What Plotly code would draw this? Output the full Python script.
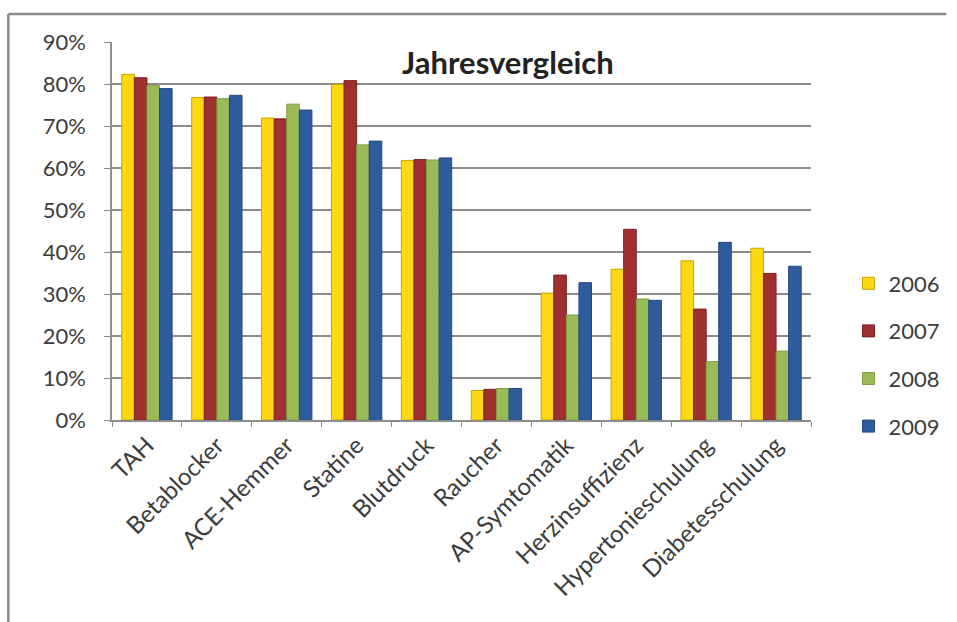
import plotly.graph_objects as go

categories = ["TAH", "Betablocker", "ACE-Hemmer", "Statine", "Blutdruck", "Raucher",
              "AP-Symtomatik", "Herzinsuffizienz", "Hypertonieschulung", "Diabetesschulung"]
years = ["2006", "2007", "2008", "2009"]

values_2006 = [82.3, 76.8, 71.9, 79.9, 61.8, 7.0, 30.2, 35.9, 37.9, 40.9]
values_2007 = [81.5, 76.9, 71.7, 80.8, 62.0, 7.3, 34.5, 45.4, 26.4, 34.9]
values_2008 = [79.6, 76.5, 75.2, 65.5, 61.9, 7.5, 25.0, 28.8, 13.9, 16.4]
values_2009 = [78.9, 77.3, 73.8, 66.4, 62.4, 7.5, 32.7, 28.5, 42.3, 36.6]

series = [values_2006, values_2007, values_2008, values_2009]
fills = ["#FFD814", "#A0302F", "#9BBB59", "#2F5C9C"]
edges = ["#C9A400", "#7A2020", "#7E9E42", "#244A80"]

FONT = "Lato, 'Open Sans', sans-serif"
TEXT = "#3c3c3c"

fig = go.Figure()
for name, vals, fc, ec in zip(years, series, fills, edges):
    fig.add_trace(go.Bar(
        x=categories, y=vals, name=name, legendgroup=name,
        marker=dict(color=fc, line=dict(color=ec, width=1)),
    ))

# plot area sits at x 112..820, y 42..420 inside a 957x622 page
L, R, T, B = 112, 137, 42, 202
W, H = 957 - L - R, 622 - T - B

def px(x):
    return (x - L) / W

def py(y):
    return (622 - B - y) / H

fig.update_layout(
    width=957, height=622,
    margin=dict(l=L, r=R, t=T, b=B),
    paper_bgcolor="white", plot_bgcolor="white",
    font=dict(family=FONT, color=TEXT, size=22),
    barmode="group", bargap=0.28, bargroupgap=0.0,
    showlegend=True,
    legend=dict(
        x=px(858), y=py(355), xanchor="left", yanchor="middle",
        font=dict(size=22, color=TEXT, family=FONT),
        traceorder="grouped", tracegroupgap=16,
        itemwidth=30, bgcolor="rgba(0,0,0,0)",
    ),
    xaxis=dict(
        type="category", tickangle=-45,
        showline=True, linecolor="#8c8c8c", linewidth=1.5,
        ticks="outside", tickson="boundaries", ticklen=5, tickcolor="#8c8c8c",
        tickfont=dict(size=24, color=TEXT, family=FONT),
        showgrid=False,
    ),
    yaxis=dict(
        range=[0, 90], dtick=10, ticksuffix="%",
        showline=True, linecolor="#8a909a", linewidth=1.5,
        ticks="outside", ticklen=6, tickcolor="#8c8c8c",
        ticklabelstandoff=14,
        showgrid=True, gridcolor="#8c8c8c", gridwidth=1.8,
        zeroline=False,
        tickfont=dict(size=22, color=TEXT, family=FONT),
    ),
    annotations=[dict(
        text="<b>Jahresvergleich</b>", x=px(513), y=py(62),
        xref="paper", yref="paper", xanchor="center", yanchor="middle",
        showarrow=False,
        font=dict(size=31, color="#222222", family=FONT),
        bgcolor="white",
    )],
    shapes=[
        # frame around the whole chart: top and left edges
        dict(type="line", xref="paper", yref="paper",
             x0=px(7), x1=px(957), y0=py(14), y1=py(14),
             line=dict(color="#8a8a8a", width=2.5)),
        dict(type="line", xref="paper", yref="paper",
             x0=px(7), x1=px(7), y0=py(14), y1=py(622),
             line=dict(color="#8a8a8a", width=2.5)),
    ],
)

fig.write_html("out.html", config={"displayModeBar": False})
